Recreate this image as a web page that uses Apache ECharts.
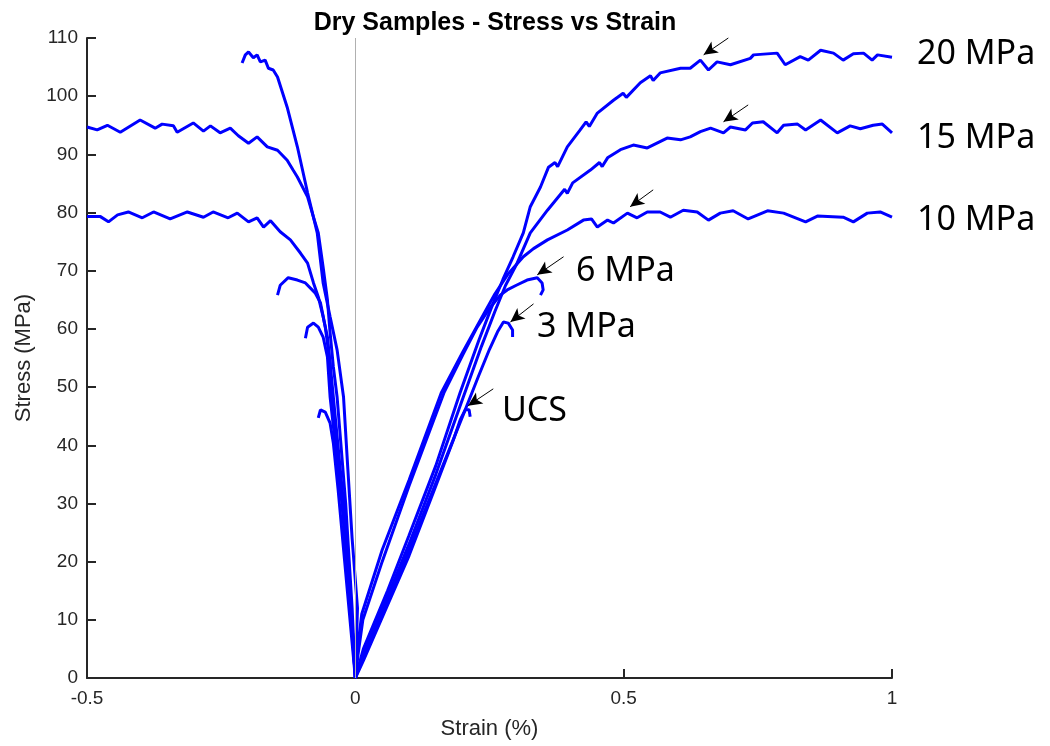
<!DOCTYPE html>
<html>
<head>
<meta charset="utf-8">
<script src="https://cdn.jsdelivr.net/npm/echarts@6/dist/echarts.min.js"></script>
<style>
  html, body { margin: 0; padding: 0; background: #fff; }
  #chart { width: 1050px; height: 746px; }
</style>
</head>
<body>
<div id="chart"></div>
<script>
// 轴刻度
const strainTicks = [-0.5, 0, 0.5, 1];
const stressTicks = [0, 10, 20, 30, 40, 50, 60, 70, 80, 90, 100, 110];

// 轴向应变 (正值)  [strain %, stress MPa]
const axial20 = [[0,0],[0.015,5],[0.06,15],[0.1,24.5],[0.15,36.5],[0.195,49],[0.23,58],[0.255,64],[0.275,68.5],[0.294,72.4],[0.313,76.5],[0.326,81],[0.345,84.4],[0.36,87.8],[0.372,88.6],[0.377,87.9],[0.395,91.3],[0.419,94.2],[0.43,95.6],[0.436,94.8],[0.451,97.1],[0.481,99.3],[0.499,100.5],[0.505,99.8],[0.531,102.3],[0.55,103.5],[0.555,102.7],[0.568,104],[0.606,104.8],[0.624,104.8],[0.643,106.2],[0.658,104.5],[0.674,105.9],[0.699,105.4],[0.736,106.5],[0.742,107.1],[0.786,107.4],[0.801,105.4],[0.829,106.8],[0.844,106.2],[0.867,107.9],[0.891,107.4],[0.909,106.2],[0.928,107.3],[0.947,107.4],[0.963,106.2],[0.973,107.1],[1.0,106.7]];
const axial15 = [[0,0],[0.015,4],[0.06,14],[0.1,23],[0.15,35],[0.2,48],[0.235,57],[0.26,63],[0.28,67.5],[0.3,71],[0.326,76.5],[0.358,80.4],[0.39,84],[0.395,83.3],[0.405,85.1],[0.438,87.3],[0.455,88.6],[0.46,87.9],[0.47,89.4],[0.494,90.8],[0.518,91.6],[0.544,91.1],[0.581,92.8],[0.606,92.5],[0.624,93],[0.643,93.9],[0.662,94.5],[0.686,93.7],[0.699,94.7],[0.727,94.2],[0.74,95.4],[0.76,95.6],[0.786,93.7],[0.798,95],[0.824,95.2],[0.839,94.2],[0.867,95.9],[0.898,93.7],[0.922,94.9],[0.941,94.4],[0.965,95],[0.982,95.2],[1.0,93.7]];
const axial10 = [[0,0],[0.004,5],[0.012,11],[0.05,22],[0.1,34],[0.16,49],[0.2,56],[0.23,61],[0.26,66],[0.285,69.5],[0.313,72.4],[0.332,73.8],[0.358,75.3],[0.395,77],[0.425,78.7],[0.44,78.9],[0.451,77.5],[0.47,78.7],[0.481,78.2],[0.507,79.9],[0.525,79.1],[0.544,80.1],[0.568,80.1],[0.587,79.2],[0.611,80.4],[0.637,80.1],[0.658,78.7],[0.68,79.9],[0.704,80.3],[0.732,78.9],[0.768,80.3],[0.798,79.9],[0.839,78.4],[0.861,79.4],[0.909,79.2],[0.928,78.4],[0.954,79.9],[0.978,80.1],[1.0,79.2]];
const axial6 = [[0,0],[0.005,4],[0.014,10],[0.05,20],[0.1,33],[0.165,49],[0.2,55.5],[0.227,60.3],[0.25,63.5],[0.27,65.8],[0.283,66.7],[0.3,67.5],[0.32,68.4],[0.339,68.8],[0.348,67.9],[0.35,66.7],[0.345,65.8]];
const axial3 = [[0,0],[0.012,3],[0.06,13],[0.1,22],[0.15,33.5],[0.2,45],[0.23,52],[0.25,56.5],[0.265,59.5],[0.276,61.2],[0.285,61],[0.293,59.8],[0.293,58.6]];
const axialUCS = [[0,0],[0.015,3],[0.06,12.5],[0.1,21],[0.15,33],[0.183,41],[0.196,44.5],[0.205,46.1],[0.212,46.1],[0.214,44.9]];

// 侧向应变 (负值)
const lateral20 = [[0,0],[0.002,6],[0.004,12],[-0.006,24],[-0.014,36],[-0.022,48.3],[-0.034,56.4],[-0.047,62.1],[-0.06,67.9],[-0.071,76.5],[-0.089,83.4],[-0.108,91.3],[-0.127,98.1],[-0.145,103.3],[-0.153,104.5],[-0.162,104.8],[-0.168,106.2],[-0.177,105.9],[-0.183,107.1],[-0.19,106.6],[-0.199,107.6],[-0.205,107.1],[-0.211,105.7]];
const lateral15 = [[0,0],[-0.006,12],[-0.018,30],[-0.034,48.3],[-0.041,53.5],[-0.047,59.3],[-0.052,65],[-0.06,70.6],[-0.069,76.5],[-0.078,79.2],[-0.089,82.7],[-0.108,86.1],[-0.116,87.3],[-0.127,89],[-0.145,90.7],[-0.164,91.3],[-0.183,93],[-0.199,91.9],[-0.218,93.2],[-0.233,94.5],[-0.252,93.7],[-0.27,94.9],[-0.283,94],[-0.302,95.4],[-0.332,93.8],[-0.339,94.9],[-0.36,95.2],[-0.373,94.5],[-0.401,95.9],[-0.438,93.8],[-0.462,95],[-0.481,94.2],[-0.5,94.7]];
const lateral10 = [[0,0],[-0.008,12],[-0.022,30],[-0.041,48.3],[-0.047,54.1],[-0.052,58.6],[-0.06,62.1],[-0.069,65.5],[-0.078,67.9],[-0.089,71.3],[-0.102,73],[-0.121,75.3],[-0.14,76.7],[-0.158,78.6],[-0.171,77.5],[-0.183,79.1],[-0.199,78.4],[-0.22,79.9],[-0.237,79.1],[-0.265,80.1],[-0.283,79.2],[-0.313,80.1],[-0.345,78.9],[-0.376,80.1],[-0.397,79.1],[-0.423,80.1],[-0.443,79.6],[-0.46,78.4],[-0.475,79.3],[-0.5,79.3]];
const lateral6 = [[0,0],[-0.008,12],[-0.024,30],[-0.045,48.3],[-0.047,54.1],[-0.056,60.3],[-0.065,64.5],[-0.075,66.2],[-0.093,67.9],[-0.108,68.4],[-0.125,68.8],[-0.14,67.5],[-0.145,65.8]];
const lateral3 = [[0,0],[-0.009,12],[-0.025,30],[-0.047,48.3],[-0.052,55.2],[-0.06,58.6],[-0.069,60.3],[-0.078,61],[-0.089,60.3],[-0.093,58.4]];
const lateralUCS = [[0,0],[-0.015,15.1],[-0.032,32.3],[-0.041,40.4],[-0.047,43.8],[-0.056,45.7],[-0.065,46.1],[-0.069,44.7]];

// 箭头 (尾 -> 头)
const arrowTails = [[0.695,110],[0.732,98.5],[0.555,83.9],[0.388,72.4],[0.332,64.3],[0.257,49.7]];
const arrowTips  = [[0.649,107.1],[0.686,95.6],[0.512,81],[0.339,69.3],[0.289,61.2],[0.21,46.8]];

// 曲线标注
const curveLabels = ['20 MPa', '15 MPa', '10 MPa', '6 MPa', '3 MPa', 'UCS'];

const allCurves = [axial20, axial15, axial10, axial6, axial3, axialUCS,
                   lateral20, lateral15, lateral10, lateral6, lateral3, lateralUCS];

const chart = echarts.init(document.getElementById('chart'));

const axisColor = '#262626';
const series = allCurves.map(function (d) {
  return {
    type: 'line',
    data: d,
    showSymbol: false,
    z: 3,
    lineStyle: { color: '#0000ff', width: 3 }
  };
});

// x=0 竖线
series.unshift({
  type: 'line',
  data: [],
  z: 1,
  markLine: {
    silent: true,
    symbol: ['none', 'none'],
    label: { show: false },
    lineStyle: { color: '#b0b0b0', width: 1, type: 'solid' },
    data: [{ xAxis: 0 }]
  }
});
// 箭头
series.push({
  type: 'line',
  data: [],
  z: 4,
  markLine: {
    silent: true,
    symbol: ['none', 'arrow'],
    symbolSize: [10, 14],
    label: { show: false },
    lineStyle: { color: '#000', width: 1, type: 'solid' },
    data: arrowTails.map(function (t, i) {
      return [{ coord: t }, { coord: arrowTips[i] }];
    })
  }
});

// 标注文字位置
const labelPos = [[917, 54], [917, 138], [917, 220], [576, 271], [537, 327], [502, 411]];

const option = {
  animation: false,
  backgroundColor: '#fff',
  title: {
    text: 'Dry Samples - Stress vs Strain',
    left: 490,
    top: 6,
    textAlign: 'center',
    textStyle: { fontFamily: 'Liberation Sans', fontSize: 25, fontWeight: 'bold', color: '#000' }
  },
  grid: { left: 87, right: 158, top: 38, bottom: 68 },
  xAxis: {
    type: 'value',
    min: strainTicks[0],
    max: strainTicks[strainTicks.length - 1],
    interval: strainTicks[1] - strainTicks[0],
    name: 'Strain (%)',
    nameLocation: 'middle',
    nameGap: 40,
    nameTextStyle: { fontFamily: 'Liberation Sans', fontSize: 22, color: axisColor },
    axisLine: { onZero: false, lineStyle: { color: axisColor, width: 2 } },
    axisTick: { inside: true, length: 9, lineStyle: { color: axisColor, width: 2 } },
    axisLabel: { margin: 11, fontFamily: 'Liberation Sans', fontSize: 19, color: axisColor },
    splitLine: { show: false }
  },
  yAxis: {
    type: 'value',
    min: stressTicks[0],
    max: stressTicks[stressTicks.length - 1],
    interval: stressTicks[1] - stressTicks[0],
    name: 'Stress (MPa)',
    nameLocation: 'middle',
    nameGap: 47,
    nameTextStyle: { fontFamily: 'Liberation Sans', fontSize: 22, color: axisColor },
    axisLine: { show: true, onZero: false, lineStyle: { color: axisColor, width: 2 } },
    axisTick: { show: true, inside: true, length: 9, lineStyle: { color: axisColor, width: 2 } },
    axisLabel: { margin: 9, fontFamily: 'Liberation Sans', fontSize: 19, color: axisColor },
    splitLine: { show: false }
  },
  graphic: curveLabels.map(function (t, i) {
    return {
      type: 'text',
      x: labelPos[i][0],
      y: labelPos[i][1],
      style: {
        text: t,
        font: '34px "Noto Sans"',
        fill: '#000',
        textAlign: 'left',
        textVerticalAlign: 'middle'
      }
    };
  }),
  series: series
};

chart.setOption(option);
</script>
</body>
</html>
